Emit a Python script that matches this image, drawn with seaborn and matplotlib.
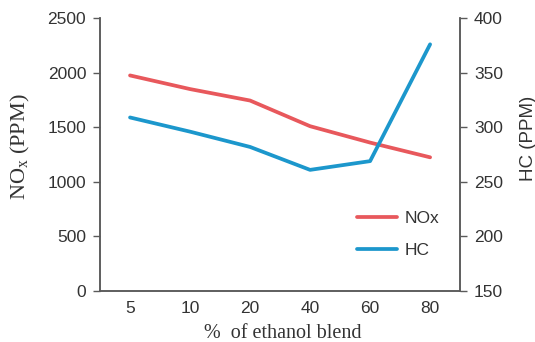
# NOx and HC versus ethanol blend
import numpy as np
import pandas as pd
import matplotlib
matplotlib.use("Agg")
import matplotlib.pyplot as plt
import seaborn as sns

blend = ["5", "10", "20", "40", "60", "80"]
nox = [1975, 1850, 1745, 1510, 1360, 1225]
hc = [309, 296, 282, 261, 269, 376]

red = "#e8585c"
blue = "#1c97cc"

sns.set_style("white")
plt.rcParams["font.family"] = ["Liberation Sans", "DejaVu Sans"]
plt.rcParams["mathtext.fontset"] = "custom"
plt.rcParams["mathtext.rm"] = "Liberation Serif"
plt.rcParams["mathtext.default"] = "rm"

df = pd.DataFrame({"pos": np.arange(len(blend)), "NOx": nox, "HC": hc})

fig = plt.figure(figsize=(5.35, 3.42), dpi=100)
ax = fig.add_axes([0.187, 0.149, 0.673, 0.798])
ax2 = ax.twinx()

sns.lineplot(data=df, x="pos", y="NOx", ax=ax, color=red, lw=2.7, label="NOx", legend=False)
sns.lineplot(data=df, x="pos", y="HC", ax=ax2, color=blue, lw=2.7, label="HC", legend=False)

ax.set_xlim(-0.5, len(blend) - 0.5)
ax.set_xticks(df["pos"])
ax.set_xticklabels(blend)
ax.set_ylim(0, 2500)
ax.set_yticks(range(0, 2501, 500))
ax2.set_ylim(150, 400)
ax2.set_yticks(range(150, 401, 50))

spine_col = "#5a5a5a"
txt_col = "#333333"
for a in (ax, ax2):
    a.spines["top"].set_visible(False)
    for s in ("left", "right", "bottom"):
        a.spines[s].set_color(spine_col)
        a.spines[s].set_linewidth(1.1)
    a.tick_params(colors=txt_col, labelsize=12.5, length=5, width=1.0, direction="out", pad=5)
    a.tick_params(axis="x", length=0, pad=7)
ax.tick_params(axis="y", left=True, color=spine_col)
ax2.tick_params(axis="y", right=True, color=spine_col)

ax.set_xlabel("%  of ethanol blend", family="Liberation Serif", fontsize=14.5, color=txt_col)
ax.set_ylabel("NO$_x$ (PPM)", family="Liberation Serif", fontsize=16, color=txt_col)
ax2.set_ylabel("HC (PPM)", fontsize=13.5, color=txt_col)
ax.xaxis.set_label_coords(0.508, -0.12)
ax.yaxis.set_label_coords(-0.19, 0.53)
ax2.yaxis.set_label_coords(1.165, 0.56)

h1, l1 = ax.get_legend_handles_labels()
h2, l2 = ax2.get_legend_handles_labels()
leg = ax2.legend(h1 + h2, l1 + l2, loc="upper left", bbox_to_anchor=(0.714, 0.295),
                 frameon=False, fontsize=12.5, handlelength=2.3, handletextpad=0.45,
                 labelspacing=0.98, borderpad=0, borderaxespad=0)
for t in leg.get_texts():
    t.set_color(txt_col)

fig.savefig("out.png", dpi=100)
